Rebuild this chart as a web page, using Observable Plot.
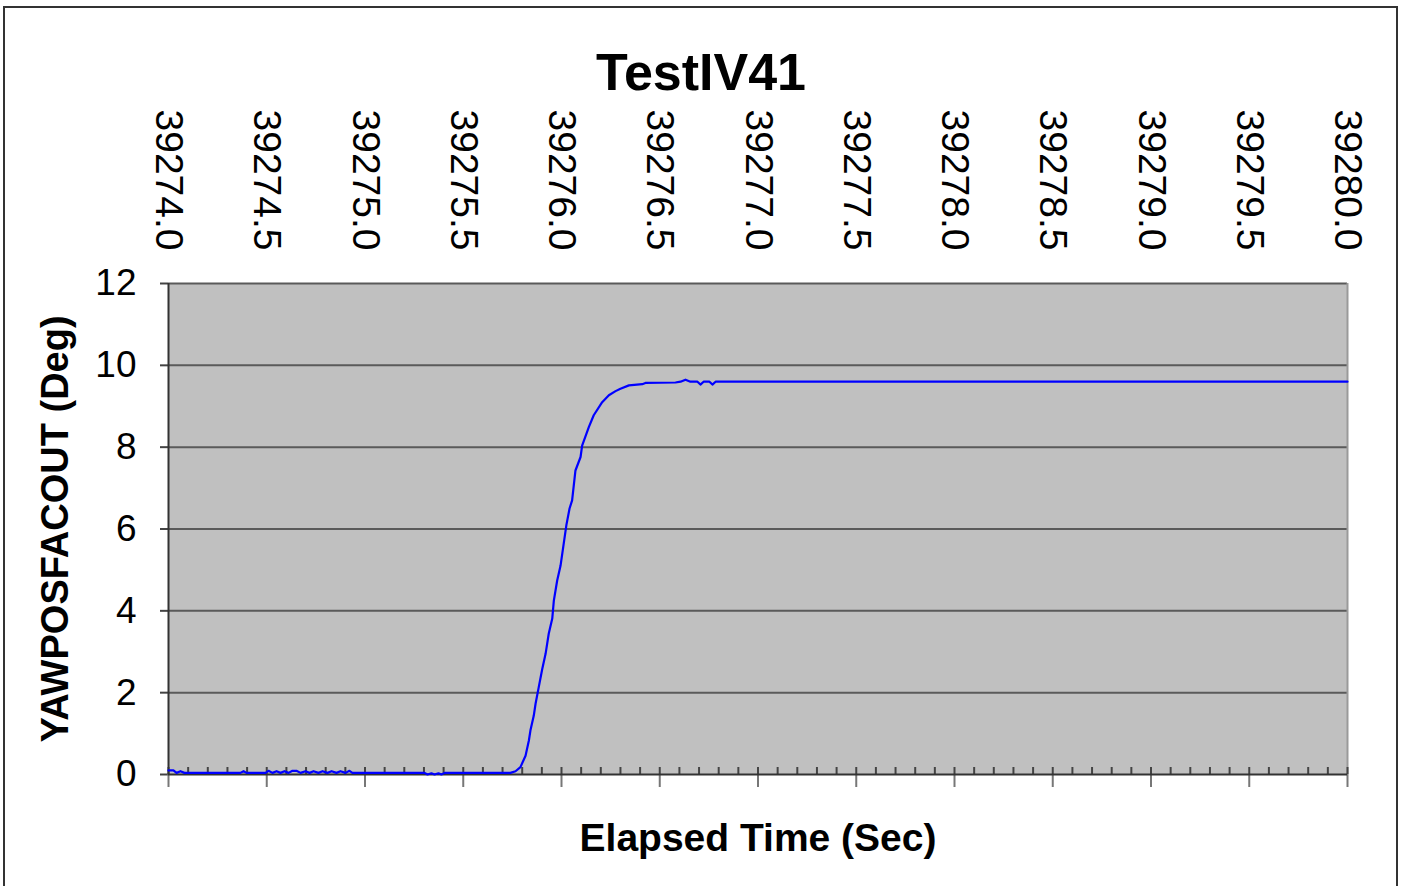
<!DOCTYPE html>
<html>
<head>
<meta charset="utf-8">
<script src="https://cdn.jsdelivr.net/npm/d3@7"></script>
<script src="https://cdn.jsdelivr.net/npm/@observablehq/plot@0.6"></script>
<style>
  html, body { margin: 0; padding: 0; background: #fff; }
  #wrap { position: relative; width: 1403px; height: 886px; overflow: hidden; }
  #border { position: absolute; left: 3px; top: 6px; width: 1395px; height: 900px; border: 2px solid #333; box-sizing: border-box; pointer-events: none; }
  svg { font-family: "Liberation Sans", Arial, sans-serif; }
</style>
</head>
<body>
<div id="wrap"><div id="border"></div></div>
<script>
const title = "TestIV41";
const xLabel = "Elapsed Time (Sec)";
const yLabel = "YAWPOSFACOUT (Deg)";

// elapsed time offset from 39274 s
const timeOffset = [
  0.000, 0.025, 0.041, 0.061, 0.081, 0.366, 0.382, 0.397,
  0.494, 0.509, 0.529, 0.550, 0.570, 0.590, 0.611, 0.631, 0.651, 0.672,
  0.697, 0.718, 0.738, 0.763, 0.784, 0.809, 0.830, 0.855, 0.875, 0.901,
  0.921, 0.936,
  1.303, 1.318, 1.338, 1.354, 1.374, 1.389, 1.405,
  1.740, 1.766, 1.791, 1.817, 1.834, 1.842, 1.859, 1.868, 1.884, 1.902,
  1.919, 1.935, 1.953, 1.961, 1.978, 1.995, 2.010, 2.025, 2.041, 2.054,
  2.071, 2.097, 2.105, 2.139, 2.164, 2.207, 2.241, 2.275, 2.300, 2.343,
  2.411, 2.427, 2.580, 2.606, 2.631, 2.656, 2.692, 2.707, 2.723, 2.753,
  2.768, 2.784, 6.000
];
const yawValues = [
  0.10, 0.10, 0.04, 0.08, 0.04, 0.04, 0.08, 0.04,
  0.04, 0.09, 0.04, 0.08, 0.04, 0.08, 0.04, 0.09, 0.09, 0.04,
  0.08, 0.04, 0.08, 0.04, 0.08, 0.04, 0.08, 0.04, 0.08, 0.04,
  0.09, 0.04,
  0.04, 0.00, 0.03, 0.00, 0.03, 0.00, 0.04,
  0.04, 0.08, 0.18, 0.46, 0.83, 1.08, 1.44, 1.73, 2.13, 2.58,
  2.95, 3.44, 3.81, 4.25, 4.74, 5.10, 5.60, 6.10, 6.50, 6.70,
  7.43, 7.76, 8.04, 8.49, 8.78, 9.10, 9.27, 9.37, 9.43, 9.51,
  9.54, 9.57, 9.58, 9.60, 9.65, 9.60, 9.60, 9.53, 9.60, 9.60,
  9.53, 9.60, 9.60
];
const timeStart = 39274;
const timeEnd = 39280;
const majorTicks = [39274.0, 39274.5, 39275.0, 39275.5, 39276.0, 39276.5, 39277.0, 39277.5, 39278.0, 39278.5, 39279.0, 39279.5, 39280.0];
const minorTicks = d3.range(0, 61).map(i => timeStart + i / 10);
const yTicks = [0, 2, 4, 6, 8, 10, 12];

const data = timeOffset.map((t, i) => ({t: timeStart + t, v: yawValues[i]}));

const fontSize = 37;
const chart = Plot.plot({
  width: 1403,
  height: 886,
  marginLeft: 168,
  marginRight: 56,
  marginTop: 283,
  marginBottom: 112,
  style: {fontFamily: '"Liberation Sans", Arial, sans-serif', background: "transparent", overflow: "visible"},
  x: {domain: [timeStart, timeEnd]},
  y: {domain: [0, 12]},
  marks: [
    Plot.frame({fill: "#C0C0C0", stroke: null}),
    Plot.gridY(yTicks.filter(d => d > 0), {stroke: "#5a5a5a", strokeOpacity: 1, strokeWidth: 2}),
    Plot.ruleX([timeEnd], {stroke: "#9a9a9a", strokeWidth: 2}),
    Plot.axisY({ticks: yTicks, tickSize: 8, tickPadding: 24, fontSize: fontSize, label: null, stroke: "#444", strokeWidth: 2, color: "#000"}),
    Plot.axisX({ticks: minorTicks, tickSize: -7, tickFormat: () => "", label: null, stroke: "#444", strokeWidth: 2}),
    Plot.axisX({ticks: majorTicks, tickSize: 13, tickFormat: () => "", label: null, stroke: "#777", strokeWidth: 2}),
    Plot.ruleX([timeStart], {stroke: "#333", strokeWidth: 2}),
    Plot.ruleY([0], {stroke: "#333", strokeWidth: 2}),
    Plot.line(data, {x: "t", y: "v", stroke: "#0000FF", strokeWidth: 2.2}),
    Plot.text(majorTicks, {x: d => d, text: d => d3.format(".1f")(d), frameAnchor: "top", rotate: 90, textAnchor: "start", lineAnchor: "middle", dy: -174, fontSize: 39, fill: "#000"}),
    Plot.text([title], {text: d => d, frameAnchor: "top", lineAnchor: "middle", dx: -57, dy: -210, fontSize: 52, fontWeight: "bold", fill: "#000"}),
    Plot.text([xLabel], {text: d => d, frameAnchor: "bottom", lineAnchor: "middle", dy: 64, fontSize: 39, fontWeight: "bold", fill: "#000"}),
    Plot.text([yLabel], {text: d => d, frameAnchor: "left", textAnchor: "middle", lineAnchor: "middle", dx: -113, rotate: -90, fontSize: 38, fontWeight: "bold", fill: "#000"})
  ]
});
document.getElementById("wrap").prepend(chart);
</script>
</body>
</html>
